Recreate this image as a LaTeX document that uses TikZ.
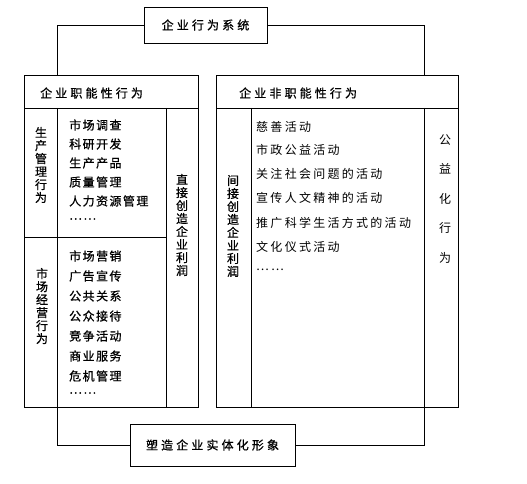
\documentclass[tikz,border=0pt]{standalone}
\usepackage{fontspec}
\newfontfamily\cjk[LetterSpace=12,FakeBold=0.8]{Noto Sans CJK SC}
\newfontfamily\cjkwide[LetterSpace=26,FakeBold=0.8]{Noto Sans CJK SC}
\newfontfamily\cjklight[LetterSpace=19]{Noto Sans CJK SC}
\begin{document}
\begin{tikzpicture}
    [x=1pt,y=-1pt,
    font=\cjk\fontsize{12}{13}\selectfont,
    block/.style={shape=rectangle,draw=black,line width=0.7pt,inner sep=0pt},
    item/.style={anchor=west,inner sep=0pt},
    item1/.style={anchor=west,inner sep=0pt,font=\cjklight\fontsize{12}{13}\selectfont},
    vert/.style={align=center,inner sep=0pt},
    edge/.style={line width=0.7pt}]

    \useasboundingbox (0,0) rectangle (527,484);

    \node (sys) [block,minimum width=123,minimum height=36] at (205.5,25) {\cjkwide 企业行为系统};
    \node (img) [block,minimum width=165,minimum height=42] at (212.5,445) {\cjkwide 塑造企业实体化形象};
    \node (func) [block,minimum width=174,minimum height=332] at (111,241) {};
    \node (nonfunc) [block,minimum width=242,minimum height=332] at (337,241) {};

    \coordinate (lt) at (57,75);
    \coordinate (rt) at (424,75);
    \coordinate (lb) at (57,407);
    \coordinate (rb) at (424,407);

    \draw [edge] (sys.west) -| (lt);
    \draw [edge] (sys.east) -| (rt);
    \draw [edge] (img.west) -| (lb);
    \draw [edge] (img.east) -| (rb);

    % left table
    \draw [edge] (24,108) -- (198,108);
    \draw [edge] (57,108) -- (57,407);
    \draw [edge] (166,108) -- (166,407);
    \draw [edge] (24,237) -- (166,237);
    % right table
    \draw [edge] (216,108) -- (458,108);
    \draw [edge] (251,108) -- (251,407);
    \draw [edge] (424,108) -- (424,407);

    \node (h1) [item] at (40,93) {\cjkwide 企业职能性行为};
    \node (h2) [item] at (239,93) {\cjkwide 企业非职能性行为};

    \node (prod) [vert] at (41,165) {生\\产\\管\\理\\行\\为};
    \node (mkt) [vert] at (42,306) {市\\场\\经\\营\\行\\为};
    \node (direct) [vert] at (182,225) {直\\接\\创\\造\\企\\业\\利\\润};
    \node (indirect) [vert] at (233,226) {间\\接\\创\\造\\企\\业\\利\\润};
    \node (public) [vert,font=\cjklight\fontsize{12}{29.5}\selectfont] at (445,199) {公\\益\\化\\行\\为};

    \node (p1) [item] at (69,125) {市场调查};
    \node (p2) [item] at (69,144) {科研开发};
    \node (p3) [item] at (69,163) {生产产品};
    \node (p4) [item] at (69,182) {质量管理};
    \node (p5) [item] at (69,201) {人力资源管理};
    \node (p6) [item] at (69,219) {……};

    \node (m1) [item] at (69,256) {市场营销};
    \node (m2) [item] at (69,276) {广告宣传};
    \node (m3) [item] at (69,296) {公共关系};
    \node (m4) [item] at (69,316) {公众接待};
    \node (m5) [item] at (69,336) {竞争活动};
    \node (m6) [item] at (69,356) {商业服务};
    \node (m7) [item] at (69,376) {危机管理};
    \node (m8) [item] at (69,393) {……};

    \node (s1) [item1] at (256,127) {慈善活动};
    \node (s2) [item1] at (256,150) {市政公益活动};
    \node (s3) [item1] at (256,174) {关注社会问题的活动};
    \node (s4) [item1] at (256,198) {宣传人文精神的活动};
    \node (s5) [item1] at (256,223) {推广科学生活方式的活动};
    \node (s6) [item1] at (256,247) {文化仪式活动};
    \node (s7) [item1] at (256,270) {……};

  \end{tikzpicture}
\end{document}
